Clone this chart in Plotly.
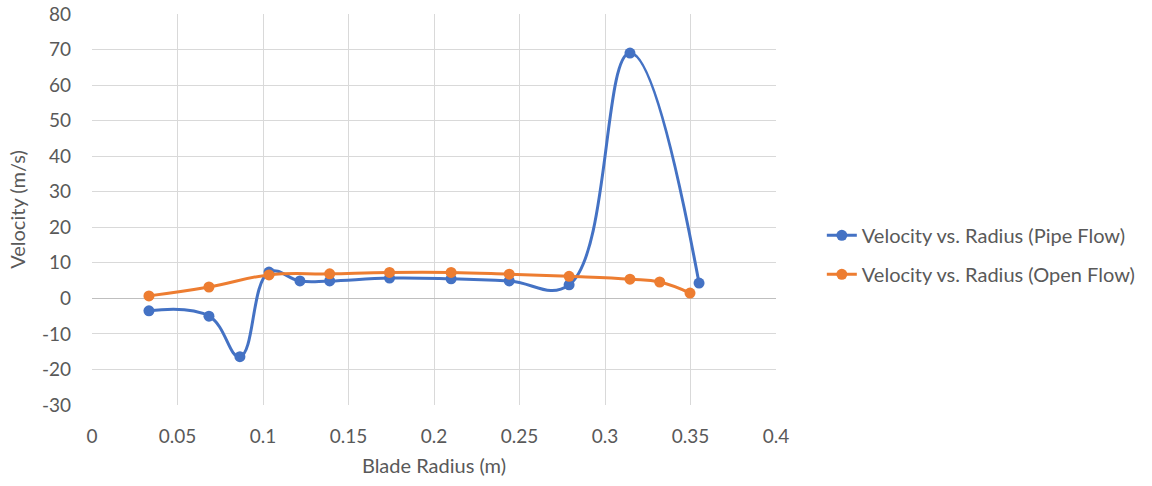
import plotly.graph_objects as go

# Pipe flow measurements
pipe_radius = [0.0333, 0.0684, 0.0865, 0.1035, 0.1216, 0.139, 0.174, 0.21, 0.244, 0.279, 0.3146, 0.355]
pipe_velocity = [-3.5, -5.0, -16.4, 7.4, 4.9, 4.9, 5.7, 5.5, 4.9, 3.8, 69.0, 4.3]

# Open flow measurements
open_radius = [0.0333, 0.0684, 0.1035, 0.139, 0.174, 0.21, 0.244, 0.279, 0.3146, 0.332, 0.3497]
open_velocity = [0.7, 3.2, 6.6, 6.9, 7.3, 7.3, 6.8, 6.2, 5.4, 4.6, 1.5]

x_ticks = [0, 0.05, 0.1, 0.15, 0.2, 0.25, 0.3, 0.35, 0.4]
x_tick_text = ["0", "0.05", "0.1", "0.15", "0.2", "0.25", "0.3", "0.35", "0.4"]
y_ticks = [-30, -20, -10, 0, 10, 20, 30, 40, 50, 60, 70, 80]
y_tick_text = ["-30", "-20", "-10", "0", "10", "20", "30", "40", "50", "60", "70", "80"]

BLUE = "#4472C4"
ORANGE = "#ED7D31"
TEXT = "#595959"
GRID = "#d9d9d9"
FONT = "Lato, 'Open Sans', sans-serif"

fig = go.Figure()
fig.add_trace(go.Scatter(
    x=pipe_radius, y=pipe_velocity, mode="lines+markers",
    name="Velocity vs. Radius (Pipe Flow)", legendgroup="pipe",
    line=dict(color=BLUE, width=3, shape="spline", smoothing=1.2),
    marker=dict(color=BLUE, size=11),
))
fig.add_trace(go.Scatter(
    x=open_radius, y=open_velocity, mode="lines+markers",
    name="Velocity vs. Radius (Open Flow)", legendgroup="open",
    line=dict(color=ORANGE, width=3, shape="spline", smoothing=1.2),
    marker=dict(color=ORANGE, size=11),
))

fig.update_layout(
    width=1152, height=486,
    margin=dict(l=92, r=376, t=14, b=81),
    paper_bgcolor="white", plot_bgcolor="white",
    font=dict(family=FONT, size=18, color=TEXT),
    showlegend=True,
    legend=dict(
        x=1.067, y=0.384, xanchor="left", yanchor="middle",
        font=dict(family=FONT, size=20, color=TEXT),
        tracegroupgap=10, bgcolor="rgba(0,0,0,0)", borderwidth=0,
    ),
    xaxis=dict(
        range=[0, 0.4], tickvals=x_ticks, ticktext=x_tick_text,
        showgrid=True, gridcolor=GRID, gridwidth=1,
        zeroline=False, showline=False, ticks="", automargin=False,
        ticklabelstandoff=18,
        tickfont=dict(size=19, color=TEXT),
        title=dict(text="Blade Radius (m)", font=dict(size=20, color=TEXT), standoff=12),
    ),
    yaxis=dict(
        range=[-30, 80], tickvals=y_ticks, ticktext=y_tick_text,
        showgrid=True, gridcolor=GRID, gridwidth=1,
        zeroline=True, zerolinecolor="#bfbfbf", zerolinewidth=1,
        showline=False, ticks="", automargin=False,
        ticklabelstandoff=20,
        tickfont=dict(size=19, color=TEXT),
        title=dict(text="Velocity (m/s)", font=dict(size=20, color=TEXT), standoff=10),
    ),
)

fig.write_html("out.html")
